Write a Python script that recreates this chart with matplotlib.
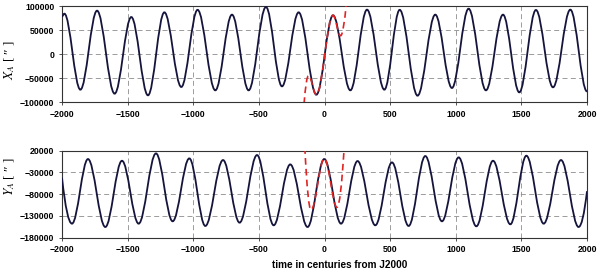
import matplotlib
matplotlib.use('Agg')
import matplotlib.pyplot as plt
from matplotlib.path import Path
from matplotlib.patches import PathPatch

plt.rcParams['font.family'] = ['Liberation Sans', 'DejaVu Sans']
plt.rcParams['mathtext.fontset'] = 'stix'

# X_A : turning points (centuries, arcsec)
xa_t = [-2000, -1982, -1860, -1733, -1599, -1472, -1345, -1220, -1091, -967,
        -832, -705, -578, -446, -324, -197, -62, 65, 197, 324, 456, 573, 709,
        844, 971, 1098, 1230, 1360, 1484, 1611, 1741, 1873, 2000]
xa_v = [78500, 84000, -74300, 90300, -82600, 77000, -86100, 86800, -68700, 92000,
        -75700, 82000, -75700, 98000, -67400, 86800, -84700, 80600, -75700, 92400,
        -74300, 92000, -86800, 82000, -70800, 94400, -75700, 82000, -79900, 91700,
        -69400, 92400, -78000]

# Y_A
ya_t = [-2000, -1924, -1802, -1670, -1543, -1416, -1284, -1157, -1030, -908,
        -773, -647, -514, -387, -261, -129, -2, 126, 252, 387, 514, 641, 768,
        895, 1022, 1157, 1284, 1416, 1538, 1670, 1802, 1936, 2000]
ya_v = [-42300, -147700, 800, -155400, -3100, -147700, 13800, -142300, 2300, -153000,
        -1500, -145400, 10000, -151500, -11500, -155400, 800, -147700, -3800, -151500,
        -6900, -153000, 7700, -142300, 4600, -153800, -3100, -149200, 8500, -147700,
        -1500, -155400, -73100]

# short-span approximation (red dashed)
xr_t = [-156, -122, -62, 65, 122, 166]
xr_v = [-104000, -45000, -84700, 80600, 38000, 104000]
yr_t = [-150, -103, -1, 95, 150]
yr_v = [28000, -116000, 2000, -110000, 28000]


def smooth_path(t, v, free_start=False, free_end=False):
    # cubic bezier between turning points, flat tangent at each one
    c = 0.36
    verts = [(t[0], v[0])]
    codes = [Path.MOVETO]
    n = len(t)
    for i in range(n - 1):
        t0, v0, t1, v1 = t[i], v[i], t[i + 1], v[i + 1]
        dt = t1 - t0
        if i == 0 and free_start:
            verts += [(t1 - 0.5 * dt, v1), (t1, v1)]
            codes += [Path.CURVE3, Path.CURVE3]
        elif i == n - 2 and free_end:
            verts += [(t0 + 0.5 * dt, v0), (t1, v1)]
            codes += [Path.CURVE3, Path.CURVE3]
        else:
            verts += [(t0 + c * dt, v0), (t1 - c * dt, v1), (t1, v1)]
            codes += [Path.CURVE4] * 3
    return Path(verts, codes)


fig = plt.figure(figsize=(6, 2.73), dpi=100)
ax1 = fig.add_axes([62 / 600, 1 - 102 / 273, 525 / 600, 96 / 273])
ax2 = fig.add_axes([62 / 600, 1 - 237.7 / 273, 525 / 600, 87 / 273])

navy = '#14143c'
red = '#e02424'

panels = [
    (ax1, xa_t, xa_v, xr_t, xr_v, True, (-100000, 100000), range(-100000, 100001, 50000), r'$X_A$ [ ″ ]', 0.44),
    (ax2, ya_t, ya_v, yr_t, yr_v, False, (-180000, 20000), range(-180000, 20001, 50000), r'$Y_A$ [ ″ ]', 0.70),
]

for ax, t, v, rt, rv, top, ylim, yt, lab, ly in panels:
    if top:
        p = smooth_path(t, v)
    else:
        p = smooth_path(t, v, free_start=True, free_end=True)
    pr = smooth_path(rt, rv, free_start=True, free_end=True)
    ax.add_patch(PathPatch(p, fill=False, edgecolor=navy, lw=1.3, zorder=3))
    ax.add_patch(PathPatch(pr, fill=False, edgecolor=red, lw=1.2,
                           linestyle=(0, (4, 2.5)), zorder=4))
    ax.set_xlim(-2000, 2000)
    ax.set_ylim(*ylim)
    ax.set_xticks(range(-2000, 2001, 500))
    ax.set_yticks(list(yt))
    ax.grid(True, color='#8c8c8c', lw=0.6, linestyle=(0, (6, 4)))
    ax.set_axisbelow(True)
    for s in ax.spines.values():
        s.set_color('#333333')
        s.set_linewidth(0.8)
    ax.tick_params(length=2.5, width=0.6, color='#333333', labelsize=6.3, pad=3)
    for lbl in ax.get_xticklabels() + ax.get_yticklabels():
        lbl.set_fontweight('bold')
    ax.set_ylabel(lab, family=['Liberation Serif', 'DejaVu Serif'], fontsize=9.5)
    ax.yaxis.set_label_coords(-0.085, ly)

fig.text(340 / 600, 1 - 265 / 273, 'time in centuries from J2000',
         ha='center', va='center', fontsize=7.2, fontweight='bold')

fig.savefig('out.png', dpi=100)
